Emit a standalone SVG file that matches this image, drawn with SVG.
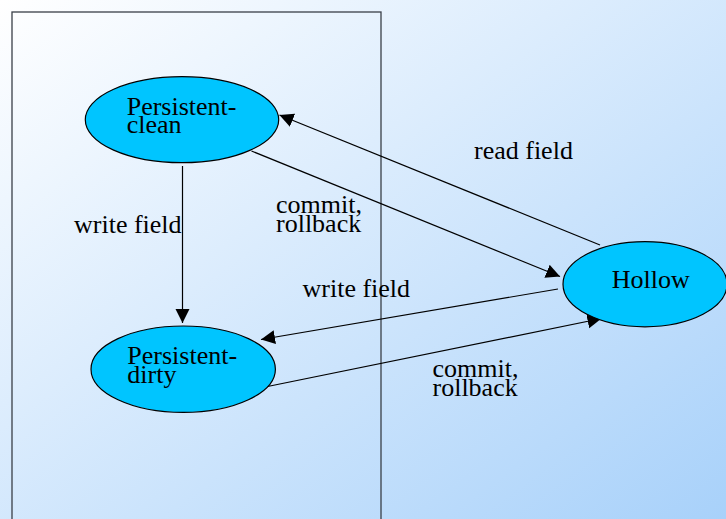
<svg xmlns="http://www.w3.org/2000/svg" width="726" height="519" viewBox="0 0 726 519">
<defs>
<linearGradient id="bg" x1="0" y1="0" x2="1" y2="1">
<stop offset="0" stop-color="#ffffff"/>
<stop offset="1" stop-color="#a8d1fa"/>
</linearGradient>
<marker id="arr" markerUnits="userSpaceOnUse" markerWidth="15" markerHeight="15" refX="14" refY="7" orient="auto">
<path d="M0,0 L14,7 L0,14 z" fill="#000"/>
</marker>
<style>
.node ellipse{fill:#00c5ff;stroke:#000;stroke-width:1.2}
text{font-family:"Liberation Serif","Times New Roman",serif;font-size:26px;fill:#000}
.edge line{stroke:#000;stroke-width:1.2;marker-end:url(#arr)}
</style>
</defs>
<rect x="0" y="0" width="726" height="519" fill="url(#bg)"/>
<rect id="container" x="12" y="12" width="369" height="530" fill="none" stroke="#3a3f48" stroke-width="1.3"/>
<g id="connectors" class="edge">
<line x1="182.5" y1="166" x2="182.5" y2="323"/>
<line x1="600" y1="245" x2="279.5" y2="115"/>
<line x1="251.5" y1="151" x2="560" y2="276.5"/>
<line x1="558" y1="289" x2="261" y2="339.5"/>
<line x1="267.5" y1="386.5" x2="601.5" y2="318.5"/>
</g>
<g id="labels">
<text x="74" y="233">write field</text>
<text x="474" y="159">read field</text>
<text x="276" y="213">commit,</text>
<text x="276" y="232">rollback</text>
<text x="302.5" y="297">write field</text>
<text x="432.5" y="377">commit,</text>
<text x="432.5" y="396">rollback</text>
</g>
<g id="persistent-clean" class="node">
<ellipse cx="182" cy="119.7" rx="96.7" ry="43"/>
<text x="126.7" y="115">Persistent-</text>
<text x="126.7" y="133">clean</text>
</g>
<g id="persistent-dirty" class="node">
<ellipse cx="183.2" cy="369.2" rx="92.2" ry="43.2"/>
<text x="127.3" y="363.5">Persistent-</text>
<text x="127.3" y="382.5">dirty</text>
</g>
<g id="hollow" class="node">
<ellipse cx="645" cy="284.2" rx="82" ry="42.6"/>
<text x="611.7" y="288.3">Hollow</text>
</g>
</svg>
